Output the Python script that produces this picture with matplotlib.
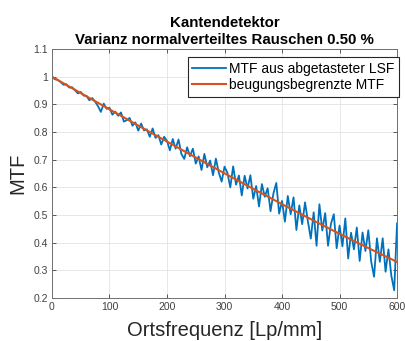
import numpy as np
import matplotlib
matplotlib.use("Agg")
import matplotlib.pyplot as plt

plt.rcParams['font.family'] = ['Liberation Sans', 'DejaVu Sans']

# Ortsfrequenz-Stuetzstellen (Lp/mm)
freq_blue = list(range(0, 601, 5))
# MTF aus abgetasteter LSF
mtf_blue = [
    1.000, 0.991, 0.989, 0.981, 0.971, 0.973, 0.961, 0.962, 0.951, 0.940,
    0.945, 0.932, 0.931, 0.915, 0.923, 0.910, 0.894, 0.873, 0.903, 0.884,
    0.888, 0.863, 0.874, 0.859, 0.871, 0.838, 0.843, 0.851, 0.823, 0.835,
    0.805, 0.831, 0.806, 0.810, 0.783, 0.813, 0.779, 0.789, 0.755, 0.783,
    0.768, 0.734, 0.775, 0.740, 0.773, 0.721, 0.703, 0.745, 0.713, 0.740,
    0.686, 0.712, 0.663, 0.721, 0.673, 0.697, 0.644, 0.704, 0.654, 0.621,
    0.675, 0.653, 0.600, 0.676, 0.610, 0.643, 0.571, 0.642, 0.596, 0.644,
    0.559, 0.605, 0.531, 0.612, 0.566, 0.597, 0.514, 0.578, 0.616, 0.505,
    0.551, 0.476, 0.569, 0.503, 0.564, 0.446, 0.535, 0.467, 0.546, 0.477,
    0.415, 0.510, 0.389, 0.539, 0.444, 0.507, 0.389, 0.468, 0.503, 0.380,
    0.462, 0.387, 0.488, 0.343, 0.436, 0.376, 0.455, 0.334, 0.437, 0.370,
    0.445, 0.332, 0.277, 0.416, 0.331, 0.416, 0.295, 0.376, 0.281, 0.228,
    0.470,
]

# beugungsbegrenzte MTF
freq_orange = list(range(0, 601, 25))
mtf_orange = [
    1.0000, 0.9705, 0.9411, 0.9117, 0.8823, 0.8530, 0.8237, 0.7946, 0.7656,
    0.7367, 0.7079, 0.6793, 0.6509, 0.6227, 0.5947, 0.5670, 0.5394, 0.5122,
    0.4853, 0.4586, 0.4323, 0.4064, 0.3808, 0.3557, 0.3306,
]

fig = plt.figure(figsize=(4.06, 3.41), dpi=100)
ax = fig.add_axes([0.128, 0.126, 0.850, 0.730])

ax.plot(freq_blue, mtf_blue, color='#0072BD', lw=1.3, label='MTF aus abgetasteter LSF')
ax.plot(freq_orange, mtf_orange, color='#D95319', lw=1.5, label='beugungsbegrenzte MTF')

ax.set_xlim(0, 600)
ax.set_ylim(0.2, 1.1)
ax.set_xticks(range(0, 601, 100))
ax.set_yticks([0.2, 0.3, 0.4, 0.5, 0.6, 0.7, 0.8, 0.9, 1.0, 1.1])
ax.set_yticklabels(['0.2', '0.3', '0.4', '0.5', '0.6', '0.7', '0.8', '0.9', '1', '1.1'])
ax.grid(True, color='#e3e3e3', lw=0.6)
ax.set_axisbelow(True)
ax.tick_params(direction='in', length=3, width=0.6, top=True, right=True,
               labelsize=7.5, colors='#404040', pad=3)
for s in ax.spines.values():
    s.set_color('#707070')
    s.set_linewidth(0.7)

ax.set_xlabel('Ortsfrequenz [Lp/mm]', fontsize=14.5, color='#262626', labelpad=6)
ax.set_ylabel('MTF', fontsize=14.5, color='#262626', labelpad=4)
ax.set_title('Kantendetektor\nVarianz normalverteiltes Rauschen 0.50 %',
             fontsize=10.8, fontweight='bold', pad=4, linespacing=1.2)

leg = ax.legend(loc='upper right', bbox_to_anchor=(1.005, 0.968), borderaxespad=0,
                fontsize=10, fancybox=False, framealpha=1, edgecolor='#262626',
                handlelength=2.4, handletextpad=0.2, borderpad=0.35, labelspacing=0.15)
leg.get_frame().set_linewidth(0.8)

plt.savefig('out.png', dpi=100)
